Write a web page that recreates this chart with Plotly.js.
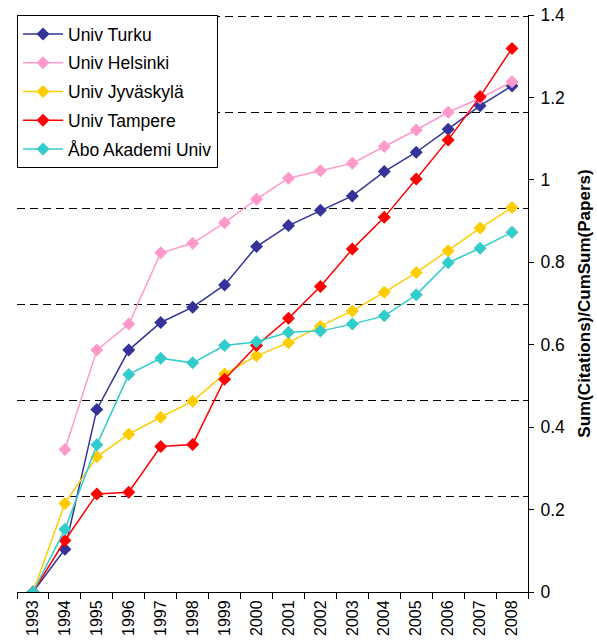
<!DOCTYPE html>
<html>
<head>
<meta charset="utf-8">
<script src="https://cdn.plot.ly/plotly-3.0.1.min.js"></script>
<style>html,body{margin:0;padding:0;background:#fff;}</style>
</head>
<body>
<div id="chart" style="width:597px;height:642px;"></div>
<script>
const years = ["1993","1994","1995","1996","1997","1998","1999","2000","2001","2002","2003","2004","2005","2006","2007","2008"];
const turku = [0, 0.104, 0.443, 0.587, 0.654, 0.691, 0.745, 0.838, 0.889, 0.926, 0.961, 1.020, 1.067, 1.123, 1.180, 1.228];
const helsinki = [null, 0.346, 0.587, 0.650, 0.823, 0.846, 0.896, 0.953, 1.004, 1.022, 1.040, 1.081, 1.121, 1.164, 1.198, 1.238];
const jyvaskyla = [0, 0.215, 0.328, 0.383, 0.424, 0.463, 0.529, 0.573, 0.605, 0.645, 0.682, 0.727, 0.775, 0.828, 0.883, 0.933];
const tampere = [0, 0.125, 0.238, 0.242, 0.353, 0.358, 0.516, 0.598, 0.664, 0.741, 0.832, 0.909, 1.002, 1.097, 1.202, 1.319];
const abo = [0, 0.152, 0.357, 0.528, 0.567, 0.556, 0.598, 0.607, 0.630, 0.633, 0.650, 0.670, 0.721, 0.799, 0.834, 0.873];

const names = ["Univ Turku", "Univ Helsinki", "Univ Jyväskylä", "Univ Tampere", "Åbo Akademi Univ"];
const colors = ["#333399", "#FF99CC", "#FFCC00", "#FF0000", "#33CCCC"];
const series = [turku, helsinki, jyvaskyla, tampere, abo];

const traces = series.map((s, i) => ({
  x: years, y: s, type: "scatter", mode: "lines+markers", name: names[i],
  legendgroup: "g" + i,
  line: {color: colors[i], width: 1.5},
  marker: {symbol: "diamond", size: 10, color: colors[i]},
  connectgaps: false
}));
// empty helper trace so the secondary (gridline) axis is drawn
traces.push({x: [years[0]], y: [null], yaxis: "y2", type: "scatter", mode: "lines",
  showlegend: false, hoverinfo: "skip"});

const font = "Liberation Sans, Arial, sans-serif";
const layout = {
  width: 597, height: 642,
  margin: {l: 17, r: 69, t: 15, b: 50},
  paper_bgcolor: "#fff", plot_bgcolor: "#fff",
  font: {family: font, size: 16, color: "#000"},
  showlegend: true,
  legend: {
    x: 0, y: 1, xanchor: "left", yanchor: "top",
    bgcolor: "#fff", bordercolor: "#000", borderwidth: 1,
    font: {family: font, size: 17.5, color: "#000"},
    tracegroupgap: 3, itemwidth: 40
  },
  xaxis: {
    type: "category", range: [-0.5, 15.5],
    showline: true, linecolor: "#000", linewidth: 1,
    ticks: "outside", ticklen: 6, tickcolor: "#000", tickson: "boundaries",
    tickangle: -90, showgrid: false, zeroline: false, ticklabelstandoff: 1,
    tickfont: {family: font, size: 16, color: "#000"}
  },
  yaxis: {
    side: "right", range: [0, 1.4], dtick: 0.2, tick0: 0,
    showline: true, linecolor: "#000", linewidth: 1,
    ticks: "outside", ticklen: 5, tickcolor: "#000",
    showgrid: false, zeroline: false, ticklabelstandoff: 3,
    tickfont: {family: font, size: 17.5, color: "#000"},
    title: {text: "Sum(Citations)/CumSum(Papers)", font: {family: font, size: 17, color: "#000", weight: "bold"}, standoff: 14}
  },
  yaxis2: {
    overlaying: "y", side: "right", range: [0, 6.012], dtick: 1, tick0: 0,
    showticklabels: false, ticks: "inside", ticklen: 5, tickcolor: "#000",
    showgrid: true, gridcolor: "#000", gridwidth: 1, griddash: "8px,5px",
    zeroline: false, showline: false
  }
};
Plotly.newPlot("chart", traces, layout, {displayModeBar: false, staticPlot: true});
</script>
</body>
</html>
